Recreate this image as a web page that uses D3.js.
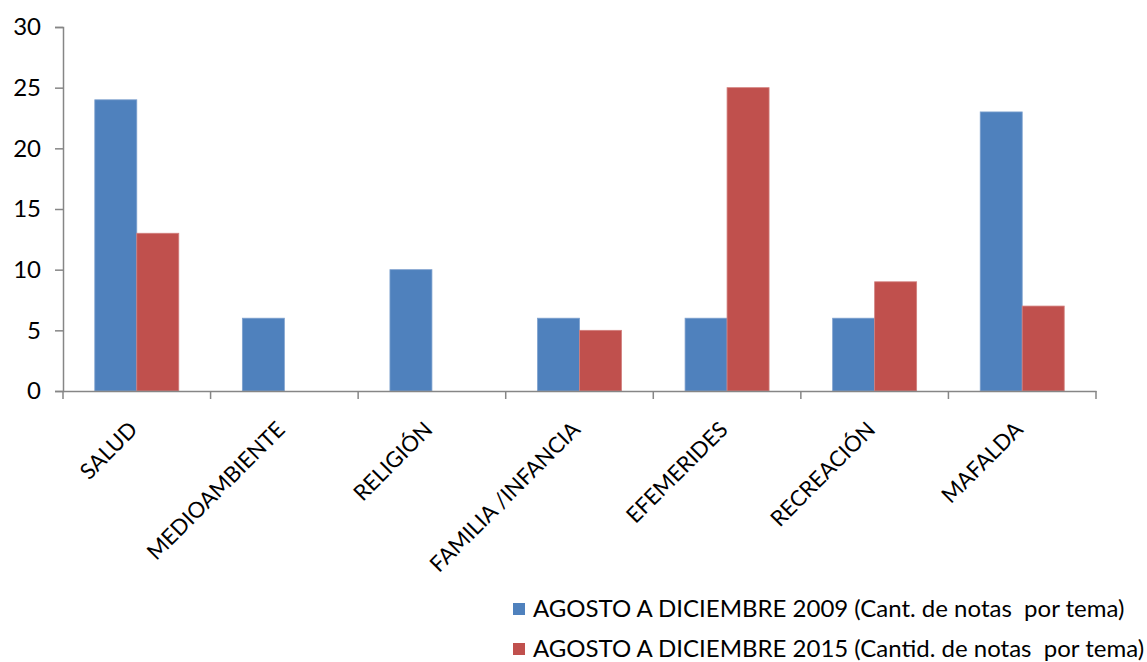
<!DOCTYPE html>
<html>
<head>
<meta charset="utf-8">
<script src="https://d3js.org/d3.v7.min.js"></script>
<style>
  body { margin: 0; background: #fff; }
  text { font-family: Lato, "Open Sans", sans-serif; fill: #000; white-space: pre; }
</style>
</head>
<body>
<div id="chart"></div>
<script>
// chart data
var categories = ["SALUD", "MEDIOAMBIENTE", "RELIGIÓN", "FAMILIA /INFANCIA", "EFEMERIDES", "RECREACIÓN", "MAFALDA"];
var series2009 = [24, 6, 10, 6, 6, 6, 23];
var series2015 = [13, 0, 0, 5, 25, 9, 7];
var seriesNames = ["AGOSTO A DICIEMBRE 2009 (Cant. de notas  por tema)", "AGOSTO A DICIEMBRE 2015 (Cantid. de notas  por tema)"];
var yTicks = [0, 5, 10, 15, 20, 25, 30];

var colors = ["#4F81BD", "#C0504D"];
var strokes = ["#7EA1CE", "#D27F7D"];
var axisColor = "#868686";

var width = 1147, height = 662;
var plotLeft = 63, plotRight = 1096, plotTop = 27, plotBottom = 391;

var svg = d3.select("#chart").append("svg")
  .attr("width", width)
  .attr("height", height);

var x0 = d3.scaleBand().domain(categories).range([plotLeft, plotRight]);
var x1 = d3.scaleBand().domain([0, 1]).range([0, x0.bandwidth()])
  .paddingInner(0).paddingOuter(0.757);
var y = d3.scaleLinear().domain([0, 30]).range([plotBottom, plotTop]);

// bars (zero values are not drawn)
var data = [series2009, series2015];
data.forEach(function (vals, s) {
  var pts = vals.map(function (v, i) { return {cat: categories[i], v: v}; })
    .filter(function (d) { return d.v > 0; });
  svg.append("g").selectAll("rect")
    .data(pts)
    .enter().append("rect")
    .attr("x", function (d) { return x0(d.cat) + x1(s); })
    .attr("y", function (d) { return y(d.v); })
    .attr("width", x1.bandwidth())
    .attr("height", function (d) { return y(0) - y(d.v); })
    .attr("fill", colors[s])
    .attr("stroke", strokes[s])
    .attr("stroke-width", 0.8);
});

// y axis
var yAxis = svg.append("g")
  .attr("transform", "translate(" + plotLeft + ",0)")
  .call(d3.axisLeft(y).tickValues(yTicks).tickSize(8).tickPadding(14));
yAxis.select(".domain").attr("stroke", axisColor).attr("stroke-width", 1.5);
yAxis.selectAll(".tick line").attr("stroke", axisColor).attr("stroke-width", 1.5);
yAxis.selectAll(".tick text")
  .style("font-family", "Lato, sans-serif")
  .style("font-size", "24px")
  .attr("fill", "#000");

// x axis
var xAxis = svg.append("g")
  .attr("transform", "translate(0," + plotBottom + ")")
  .call(d3.axisBottom(x0).tickSize(0).tickFormat(""));
xAxis.select(".domain").attr("stroke", axisColor).attr("stroke-width", 1.5);
var edges = categories.map(function (c) { return x0(c); }).concat([plotRight]);
xAxis.selectAll(".edge")
  .data(edges)
  .enter().append("line")
  .attr("x1", function (d) { return d; })
  .attr("x2", function (d) { return d; })
  .attr("y1", 0)
  .attr("y2", 8)
  .attr("stroke", axisColor)
  .attr("stroke-width", 1.5);

// category labels rotated
svg.append("g").selectAll("text")
  .data(categories)
  .enter().append("text")
  .attr("transform", function (d) {
    return "translate(" + (x0(d) + x0.bandwidth() / 2 + 2) + "," + 431 + ") rotate(-45)";
  })
  .attr("text-anchor", "end")
  .style("font-size", "22px")
  .text(function (d) { return d; });

// legend
var legend = svg.append("g");
seriesNames.forEach(function (name, s) {
  var yy = 609 + s * 40;
  legend.append("rect")
    .attr("x", 513).attr("y", yy - 6)
    .attr("width", 12).attr("height", 12)
    .attr("fill", colors[s]);
  legend.append("text")
    .attr("x", 533).attr("y", yy)
    .attr("dy", "0.35em")
    .style("font-size", "24px")
    .text(name);
});
</script>
</body>
</html>
